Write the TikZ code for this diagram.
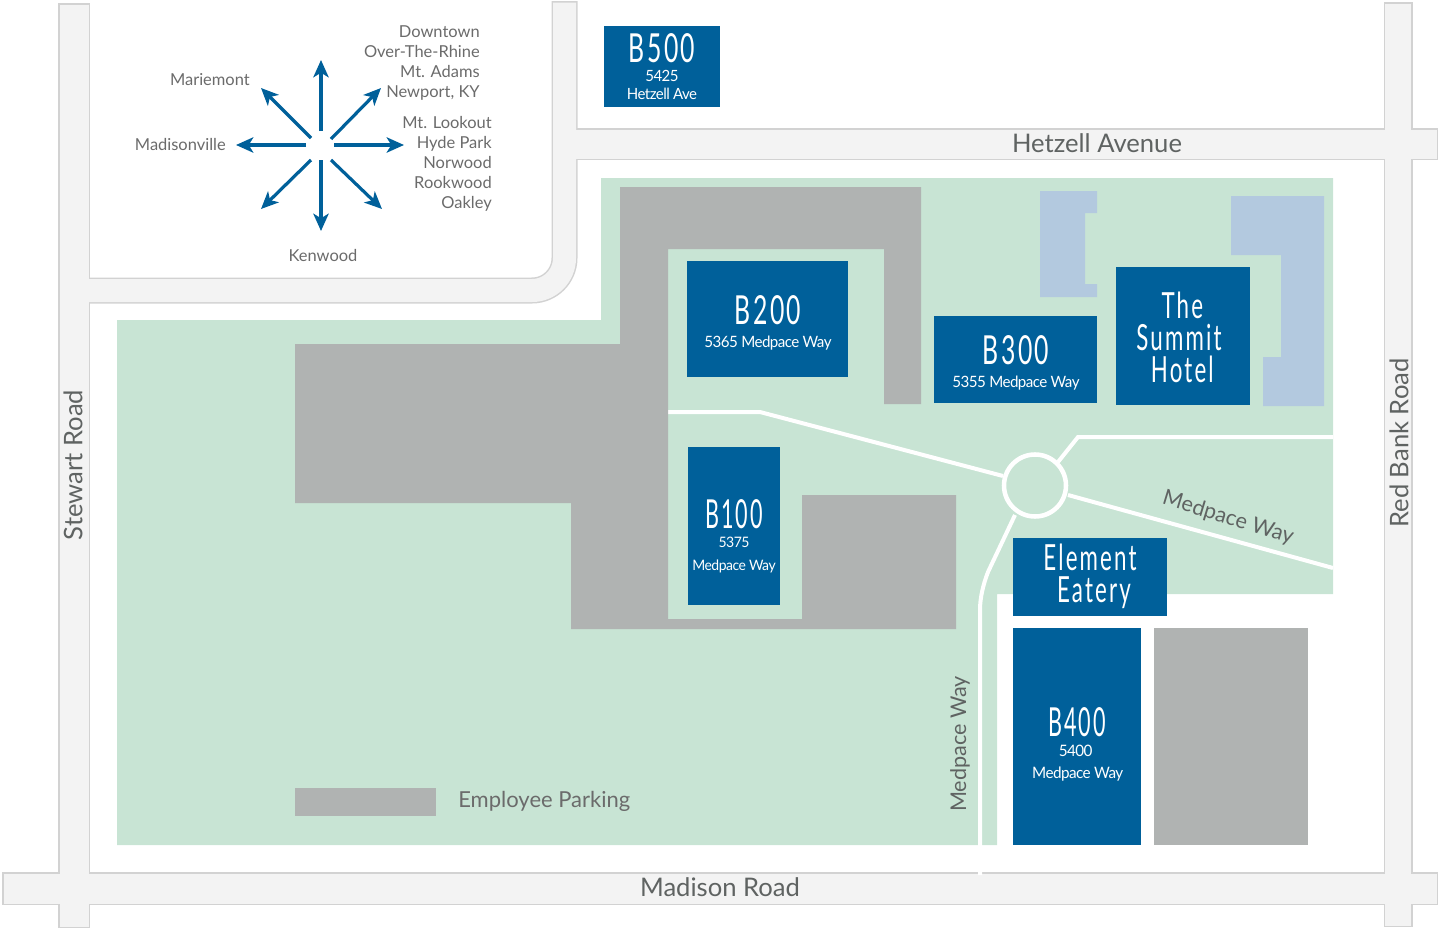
\documentclass[tikz,border=0pt]{standalone}
\usepackage{fontspec}
\setmainfont{Lato}
\newfontfamily\din[FakeStretch=0.62,LetterSpace=6]{Lato}
\newfontfamily\tight[FakeStretch=0.97,LetterSpace=-3.5]{Lato}
\usetikzlibrary{arrows.meta}
\definecolor{roadfill}{HTML}{F3F3F3}
\definecolor{roadedge}{HTML}{D2D2D2}
\definecolor{lawn}{HTML}{C8E4D4}
\definecolor{paving}{HTML}{B0B3B2}
\definecolor{medblue}{HTML}{00609A}
\definecolor{hotelblue}{HTML}{B3C9DF}
\definecolor{labelgrey}{HTML}{6B6B6B}
\definecolor{roadtext}{HTML}{5F6362}
\tikzset{
  x=0.75pt,y=-0.75pt,
  roadcase/.style={draw=roadedge,line width=#1*0.75pt+2.25pt},
  roadcore/.style={draw=roadfill,line width=#1*0.75pt},
  walk/.style={draw=white,line width=3pt,line join=miter},
  bldg/.style={fill=medblue},
  pave/.style={fill=paving},
  hotelwing/.style={fill=hotelblue},
  dirarrow/.style={draw=medblue,line width=2.4pt,-{Stealth[length=13pt,width=11.5pt,inset=3.5pt]}},
  place/.style={text=labelgrey,font=\fontsize{12.35pt}{15pt}\selectfont,inner sep=0pt,align=right},
  roadname/.style={text=roadtext,font=\fontsize{19.2pt}{22pt}\selectfont,inner sep=0pt},
  wayname/.style={text=roadtext,font=\fontsize{16.2pt}{19pt}\selectfont,inner sep=0pt},
  bigtitle/.style={text=white,font=\din\fontsize{30pt}{36pt}\selectfont,inner sep=0pt},
  midtitle/.style={text=white,font=\din\fontsize{27pt}{24pt}\selectfont,inner sep=0pt,align=center},
  addr/.style={text=white,font=\tight\fontsize{11.7pt}{16.5pt}\selectfont,inner sep=0pt,align=center},
}
\begin{document}
\begin{tikzpicture}
\useasboundingbox (0,0) rectangle (1440,928);
% roads: casing first, then core
\foreach \w/\p in {29/{(74,3)--(74,928)},30/{(2,888.5)--(1438,888.5)},26/{(1398,2)--(1398,927)},29/{(564.5,144)--(1438,144)}}{
  \draw[roadcase=\w] \p;
}
\draw[roadcase=23] (74,290.5)--(532,290.5) arc[start angle=90,end angle=0,radius=32.5]--(564.5,1);
\foreach \w/\p in {29/{(74,4.5)--(74,926.5)},30/{(3.5,888.5)--(1436.5,888.5)},26/{(1398,3.5)--(1398,925.5)},29/{(564.5,144)--(1436.5,144)}}{
  \draw[roadcore=\w] \p;
}
\draw[roadcore=23] (74,290.5)--(532,290.5) arc[start angle=90,end angle=0,radius=32.5]--(564.5,2.5);
% lawn
\fill[lawn] (601,178)--(1333,178)--(1333,594)--(997,594)--(997,845)--(117,845)--(117,320)--(601,320)--cycle;
% paths on lawn
\coordinate (rb) at (1035,485.5);
\coordinate (pw1) at (668,412);
\coordinate (pw2) at (760,412);
\coordinate (pw3) at (1003,476);
\coordinate (pn1) at (1058,462);
\coordinate (pn2) at (1078,437);
\coordinate (pn3) at (1333,437);
\coordinate (pe1) at (1068,495);
\coordinate (pe2) at (1333,568);
\coordinate (ps1) at (1015,515);
\coordinate (ps2) at (988,572);
\coordinate (ps3) at (980,610);
\coordinate (ps4) at (980,875);
\draw[walk] (pw1)--(pw2)--(pw3);
\draw[walk] (pn1)--(pn2)--(pn3);
\draw[walk] (pe1)--(pe2);
\draw[walk] (ps1)--(ps2) .. controls (983,585) and (980,598) .. (ps3)--(ps4);
\draw[walk,line width=3.4pt] (rb) circle[radius=31];
% paved areas
\fill[pave] (620,187)--(921,187)--(921,404)--(884,404)--(884,249)--(668,249)--(668,619)--(802,619)--(802,495)--(956,495)--(956,629)--(571,629)--(571,503)--(295,503)--(295,344)--(620,344)--cycle;
\fill[pave] (1154,628) rectangle (1308,845);
\fill[pave] (295,788) rectangle (436,816);
% hotel wings
\fill[hotelwing] (1040,191)--(1097,191)--(1097,213)--(1085,213)--(1085,284)--(1097,284)--(1097,297)--(1040,297)--cycle;
\fill[hotelwing] (1231,196)--(1324,196)--(1324,406)--(1263,406)--(1263,357)--(1281,357)--(1281,255)--(1231,255)--cycle;
% buildings
\fill[bldg] (604,26) rectangle (720,107);
\fill[bldg] (687,261) rectangle (848,377);
\fill[bldg] (934,316) rectangle (1097,403);
\fill[bldg] (1116,267) rectangle (1250,405);
\fill[bldg] (688,447) rectangle (780,605);
\fill[bldg] (1013,538) rectangle (1167,616);
\fill[bldg] (1013,628) rectangle (1141,845);
% building labels
\node[bigtitle] (t500) at (662,48) {B500};
\node[addr,font=\tight\fontsize{11.6pt}{14pt}\selectfont] (a500) at (662,85) {5425\\Hetzell Ave};
\node[bigtitle] (t200) at (768,310) {B200};
\node[addr] (a200) at (768,343) {5365 Medpace Way};
\node[bigtitle] (t300) at (1016,350) {B300};
\node[addr] (a300) at (1016,383) {5355 Medpace Way};
\node[midtitle] (thotel) at (1179,337) {\hspace*{5pt}The\\Summit\\\hspace*{5pt}Hotel};
\node[bigtitle,xscale=0.87,transform shape] (t100) at (734,514) {B100};
\node[addr,font=\tight\fontsize{10.8pt}{17pt}\selectfont] (a100) at (734,555) {5375\\Medpace Way};
\node[midtitle] (telem) at (1090,576.5) {Element\\\hspace*{6pt}Eatery};
\node[bigtitle,xscale=0.87,transform shape] (t400) at (1077,722) {B400};
\node[addr,font=\tight\fontsize{11.8pt}{17pt}\selectfont] (a400) at (1077,763) {\hspace*{-2pt}5400\\\hspace*{1pt}Medpace Way};
% compass
\coordinate (nS) at (321,131);\coordinate (nT) at (321,60);
\coordinate (sS) at (321,160);\coordinate (sT) at (321,231);
\coordinate (wS) at (306,145);\coordinate (wT) at (236,145);
\coordinate (eS) at (334,145);\coordinate (eT) at (404,145);
\coordinate (neS) at (331,139);\coordinate (neT) at (381,88);
\coordinate (nwS) at (311,138);\coordinate (nwT) at (261,88);
\coordinate (swS) at (311,160);\coordinate (swT) at (261,209);
\coordinate (seS) at (331,160);\coordinate (seT) at (382,209);
\foreach \d in {n,s,w,e,ne,nw,sw,se}{\draw[dirarrow] (\d S)--(\d T);}
% places
\node[place,anchor=north east] (ldown) at (480,25.5) {Downtown\\Over-The-Rhine\\Mt. Adams\\Newport, KY};
\node[place,anchor=north east] (lhyde) at (492,116) {Mt. Lookout\\Hyde Park\\Norwood\\Rookwood\\Oakley};
\node[place,anchor=east] (lmarie) at (250,80) {Mariemont};
\node[place,anchor=east] (lmadi) at (226,145) {Madisonville};
\node[place] (lken) at (323,255.5) {Kenwood};
% road names
\node[roadname] (rhet) at (1097,143) {Hetzell Avenue};
\node[roadname] (rmad) at (720,887) {Madison Road};
\node[roadname,rotate=90] (rred) at (1399,443) {Red Bank Road};
\node[roadname,rotate=90] (rste) at (73,465) {Stewart Road};
\node[wayname,rotate=90] (wmed1) at (960,744) {Medpace Way};
\node[wayname,rotate=-17] (wmed2) at (1228,518) {Medpace Way};
\node[wayname,anchor=west,text=labelgrey,font=\fontsize{16.5pt}{19pt}\selectfont] (lpark) at (458,801.5) {Employee Parking};
\end{tikzpicture}
\end{document}
